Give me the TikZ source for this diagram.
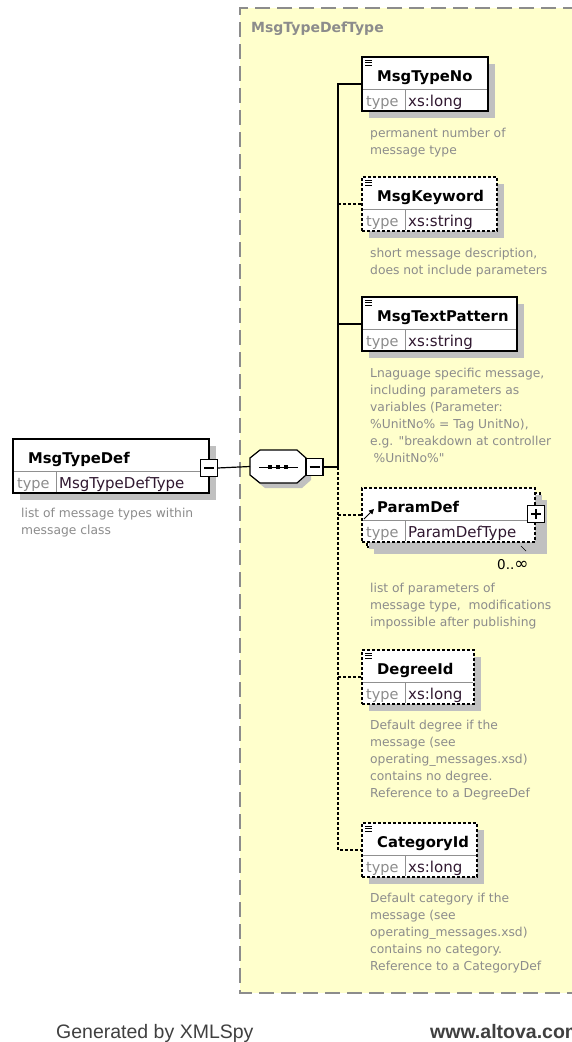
\documentclass[tikz,border=0pt]{standalone}
\usepackage{fontspec}
\setmainfont{DejaVu Sans}
\newfontfamily\plainfont{DejaVu Sans}
\newfontfamily\footfont{Liberation Sans}
\usetikzlibrary{arrows.meta}
\definecolor{bgyellow}{HTML}{FFFFCC}
\definecolor{desccol}{HTML}{8C8C8C}
\definecolor{typecol}{HTML}{8C8C8C}
\definecolor{valcol}{HTML}{301830}
\definecolor{shadowcol}{HTML}{C0C0C0}
\definecolor{sepcol}{HTML}{909090}
\definecolor{contcol}{HTML}{8C8C8C}
\definecolor{footcol}{HTML}{404040}
\tikzset{
  elem/.style={draw=black, line width=1.3pt, fill=white, inner sep=0pt, outer sep=0pt},
  optional/.style={dash pattern=on 3pt off 2pt},
  required/.style={},
  sepline/.style={draw=sepcol, line width=0.8pt},
  namefont/.style={font=\fontsize{14.8}{17}\selectfont\bfseries, inner sep=0pt, anchor=base west},
  typelab/.style={font=\fontsize{14.5}{17}\selectfont, text=typecol, inner sep=0pt, anchor=base west},
  typeval/.style={font=\fontsize{15}{17}\selectfont, text=valcol, inner sep=0pt, anchor=base west},
  desctext/.style={font=\plainfont\fontsize{12.3}{17}\selectfont, text=desccol, inner sep=0pt, anchor=base west},
  conn/.style={draw=black, line width=1.2pt},
  optconn/.style={conn, dash pattern=on 3pt off 2pt},
  pmbox/.style={draw=black, line width=1.6pt, fill=white, minimum width=17pt, minimum height=17pt, inner sep=0pt, outer sep=0pt},
  docicon/.style={draw=black, line width=0.6pt},
}
% #1 name, #2 x, #3 top, #4 width, #5 title, #6 type, #7 style
\newcommand\xelem[7]{%
  \fill[shadowcol] (#2+7,#3+7) rectangle ++(#4,54);
  \node[elem,#7,minimum width=#4 pt,minimum height=54pt,anchor=north west] (#1) at (#2,#3) {};
  \draw[sepline] (#2+1,#3+32) -- (#2+#4-1,#3+32);
  \draw[sepline] (#2+43,#3+32) -- (#2+43,#3+53);
  \node[namefont] (#1-n) at (#2+15,#3+24) {#5};
  \node[typelab] (#1-tl) at (#2+4,#3+49) {type};
  \node[typeval] (#1-tv) at (#2+46,#3+49) {#6};
}
\newcommand\xdoc[2]{%
  \draw[docicon] (#1+3,#2+3) -- ++(7,0);
  \draw[docicon] (#1+3,#2+5.5) -- ++(7,0);
  \draw[docicon] (#1+3,#2+8) -- ++(7,0);
}
\newcommand\xdesc[4]{%
  \node[desctext] (#1) at (#2,#3) {\begin{tabular}[t]{@{}l@{}}#4\end{tabular}};
}
\begin{document}
\begin{tikzpicture}[x=1pt,y=-1pt]
\useasboundingbox (0,0) rectangle (571,1042);
\fill[white] (0,0) rectangle (571,1042);
% container
\fill[bgyellow] (240,8) rectangle (600,993);
\draw[draw=contcol, line width=1.3pt, dash pattern=on 15pt off 7pt] (600,8) -- (240,8) -- (240,993) -- (600,993);
\node[font=\fontsize{14}{17}\selectfont\bfseries, text=contcol, inner sep=0pt, anchor=base west] (cttl) at (251,32) {MsgTypeDefType};

% root element
\xelem{root}{13}{439}{196}{MsgTypeDef}{MsgTypeDefType}{required}
\node[pmbox] (rootmin) at (209,468) {};
\draw[line width=1.3pt] (rootmin.center) ++(-5,0) -- ++(10,0);
\xdesc{rootd}{21}{517}{list of message types within\\message class}

% sequence compositor
\node[minimum width=56pt, minimum height=33pt, inner sep=0pt, outer sep=0pt] (seq) at (278,466.5) {};
\fill[shadowcol] (265,455) -- (302,455) -- (311,463) -- (311,480) -- (302,488) -- (265,488) -- (255,480) -- (255,463) -- cycle;
\draw[line width=1.2pt, fill=white] (260,450) -- (297,450) -- (306,458) -- (306,475) -- (297,483) -- (260,483) -- (250,475) -- (250,458) -- cycle;
\draw[line width=1pt] (259,467) -- (298,467);
\fill (268.2,465.2) rectangle ++(3.6,3.6);
\fill (276.2,465.2) rectangle ++(3.6,3.6);
\fill (284.2,465.2) rectangle ++(3.6,3.6);
\node[pmbox] (seqmin) at (314.5,467) {};
\draw[line width=1.3pt] (seqmin.center) ++(-5,0) -- ++(10,0);

% children
\xelem{e1}{362}{57}{126}{MsgTypeNo}{xs:long}{required}
\xdoc{362}{57}
\xdesc{e1d}{370}{137}{permanent number of\\message type}

\xelem{e2}{362}{177}{135}{MsgKeyword}{xs:string}{optional}
\xdoc{362}{177}
\xdesc{e2d}{370}{257}{short message description,\\does not include parameters}

\xelem{e3}{362}{297}{155}{MsgTextPattern}{xs:string}{required}
\xdoc{362}{297}
\xdesc{e3d}{370}{377}{Lnaguage specific message,\\including parameters as\\variables (Parameter:\\\%UnitNo\% = Tag UnitNo),\\e.g. "breakdown at controller\\\hspace*{3.5pt}\%UnitNo\%"}

% ParamDef (multiple, reference)
\fill[shadowcol] (374,500) rectangle (547,554);
\node[elem,optional,minimum width=173pt,minimum height=54pt,anchor=north west] (e4back) at (367,493) {};
\xelem{e4}{362}{488}{173}{ParamDef}{ParamDefType}{optional}
\draw[line width=1pt, -{Triangle[length=5pt,width=5pt]}] (364,519) -- (374,509);
\node[pmbox] (e4plus) at (536,514) {};
\draw[line width=1.3pt] (e4plus.center) ++(-5,0) -- ++(10,0);
\draw[line width=1.3pt] (e4plus.center) ++(0,-5) -- ++(0,10);
\draw[line width=0.7pt] (521,546) -- (526,551);
\node[font=\plainfont\fontsize{13.5}{17}\selectfont, inner sep=0pt, anchor=base west] (e4m) at (497,569) {0..{\fontsize{17}{17}\selectfont ∞}};
\xdesc{e4d}{370}{592}{list of parameters of\\message type,\ \ modifications\\impossible after publishing}

\xelem{e5}{362}{650}{112}{DegreeId}{xs:long}{optional}
\xdoc{362}{650}
\xdesc{e5d}{370}{729}{Default degree if the\\message (see\\operating\_messages.xsd)\\contains no degree.\\Reference to a DegreeDef}

\xelem{e6}{362}{823}{115}{CategoryId}{xs:long}{optional}
\xdoc{362}{823}
\xdesc{e6d}{370}{902}{Default category if the\\message (see\\operating\_messages.xsd)\\contains no category.\\Reference to a CategoryDef}

% connectors
\coordinate (j0) at (338,467);
\draw[conn] (rootmin.east) -- (seq.west);
\draw[conn] (seqmin.east) -- (j0);
\draw[conn] (j0) |- (e1.west);
\draw[optconn] (j0 |- e2.west) -- (e2.west);
\draw[conn] (j0 |- e3.west) -- (e3.west);
\draw[optconn] (j0) |- (e6.west);
\draw[optconn] (j0 |- e4.west) -- (e4.west);
\draw[optconn] (j0 |- e5.west) -- (e5.west);

% footer
\node[font=\footfont\fontsize{19.5}{22}\selectfont, text=footcol, inner sep=0pt, anchor=base west] (gen) at (56,1038) {Generated by XMLSpy};
\node[font=\footfont\fontsize{19.5}{22}\selectfont\bfseries, text=footcol, inner sep=0pt, anchor=base west] (url) at (430,1038) {www.altova.com};
\end{tikzpicture}
\end{document}
